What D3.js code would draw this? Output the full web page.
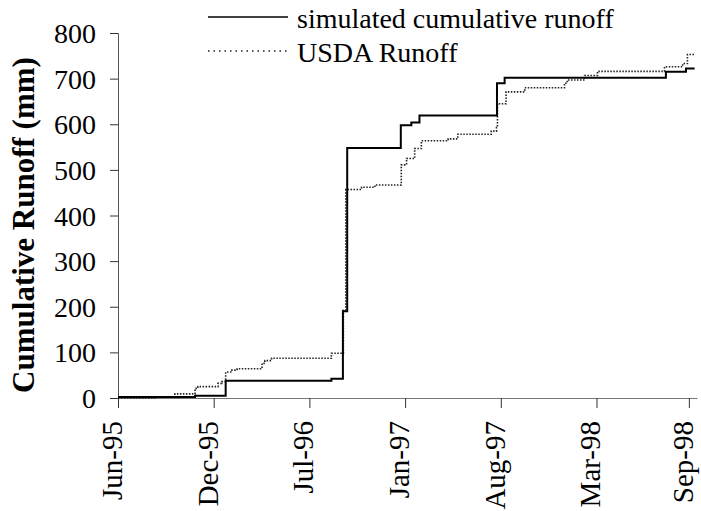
<!DOCTYPE html>
<html><head><meta charset="utf-8">
<script src="https://cdn.jsdelivr.net/npm/d3@7"></script>
<style>body{margin:0;background:#fff}svg{display:block}</style>
</head><body><div id="chart"></div>
<script>
// Simulated cumulative runoff (mm), step series
const simDates = ["1995-06-10","1995-11-18","1996-01-21","1996-08-29","1996-09-22","1996-10-01","1997-01-21","1997-02-12","1997-03-01","1997-08-10","1997-08-26","1998-07-29","1998-09-09","1998-09-27"];
const simValues = [2,5,38,42,190,548,598,604,619,690,702,715,722,722];
// USDA runoff (mm), step series
const usdaDates = ["1995-06-10","1995-08-30","1995-10-07","1995-11-18","1995-11-24","1996-01-05","1996-01-13","1996-01-21","1996-02-03","1996-02-14","1996-04-06","1996-04-12","1996-04-26","1996-08-29","1996-09-23","1996-09-28","1996-10-31","1996-11-28","1997-01-22","1997-02-02","1997-02-19","1997-03-05","1997-04-30","1997-05-20","1997-07-29","1997-08-09","1997-08-11","1997-08-29","1997-10-07","1997-12-29","1998-01-04","1998-02-09","1998-03-08","1998-07-26","1998-09-02","1998-09-12","1998-09-27"];
const usdaValues = [0,2,9,21,25,32,36,57,61,64,76,82,87,98,193,457,462,467,511,525,547,564,568,578,585,593,645,671,680,690,697,707,716,726,733,753,753];
// Axis ticks
const xTickDates = ["1995-06-10","1995-12-27","1996-07-14","1997-01-30","1997-08-18","1998-03-06","1998-09-15"];
const yTicks = [0,100,200,300,400,500,600,700,800];
const seriesNames = ["simulated cumulative runoff","USDA Runoff"];

const FONT = "'Liberation Serif', Tinos, 'Times New Roman', 'DejaVu Serif', serif";
const W = 701, H = 511;
const parse = d3.utcParse("%Y-%m-%d");
const svg = d3.select("#chart").append("svg").attr("width", W).attr("height", H)
  .style("font-family", FONT);

const x = d3.scaleUtc().domain([parse("1995-06-10"), parse("1998-10-02")]).range([118, 697]);
const y = d3.scaleLinear().domain([0, 800]).range([398, 33]);

// Y axis
const yAxis = svg.append("g").attr("transform", "translate(118,0)")
  .call(d3.axisLeft(y).tickValues(yTicks).tickSize(8).tickPadding(14).tickFormat(d3.format("d")));
yAxis.attr("font-family", null).attr("font-size", null);
yAxis.select(".domain").attr("stroke", "#555").attr("stroke-width", 1);
yAxis.selectAll(".tick line").attr("stroke", "#333");
yAxis.selectAll(".tick text").style("font-family", FONT).attr("font-size", 28).attr("fill", "#000").attr("dy", "0.34em");

// X axis
const xAxis = svg.append("g").attr("transform", "translate(0,398)")
  .call(d3.axisBottom(x).tickValues(xTickDates.map(parse)).tickSize(10).tickSizeOuter(0).tickFormat(d3.utcFormat("%b-%y")));
xAxis.attr("font-family", null).attr("font-size", null);
xAxis.select(".domain").attr("stroke", "#777").attr("stroke-width", 1);
xAxis.selectAll(".tick line").attr("stroke", "#333");
xAxis.selectAll(".tick text")
  .style("font-family", FONT).attr("font-size", 29).attr("fill", "#000")
  .attr("text-anchor", "end")
  .attr("transform", "translate(0,23) rotate(-90)")
  .attr("x", 0).attr("y", 0).attr("dy", "0.12em");

// Y label
svg.append("text").attr("transform", "translate(34,225) rotate(-90)")
  .style("font-family", FONT)
  .attr("text-anchor", "middle").attr("font-size", 31).attr("font-weight", "bold")
  .text("Cumulative Runoff (mm)");

const line = d3.line().curve(d3.curveStepAfter).x(d => x(d[0])).y(d => y(d[1]));
const simData = simDates.map((d, i) => [parse(d), simValues[i]]);
const usdaData = usdaDates.map((d, i) => [parse(d), usdaValues[i]]);

svg.append("path").datum(usdaData).attr("d", line).attr("fill", "none")
  .attr("stroke", "#222").attr("stroke-width", 1.6).attr("stroke-dasharray", "1.5,1.5");
svg.append("path").datum(simData).attr("d", line).attr("fill", "none")
  .attr("stroke", "#000").attr("stroke-width", 2);

// Legend
const leg = svg.append("g");
leg.append("line").attr("x1", 208).attr("x2", 288).attr("y1", 17).attr("y2", 17).attr("stroke", "#000").attr("stroke-width", 1.6);
leg.append("line").attr("x1", 208).attr("x2", 288).attr("y1", 51).attr("y2", 51).attr("stroke", "#222").attr("stroke-width", 1.4).attr("stroke-dasharray", "1.5,4");
leg.append("text").attr("x", 297).attr("y", 28).attr("font-size", 28).style("font-family", FONT).text(seriesNames[0]);
leg.append("text").attr("x", 297).attr("y", 62).attr("font-size", 28).style("font-family", FONT).text(seriesNames[1]);
</script></body></html>
